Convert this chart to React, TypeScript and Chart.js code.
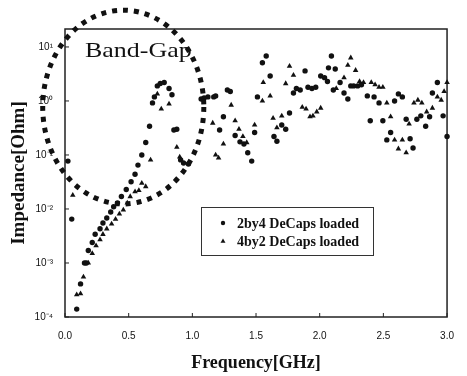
import React, { useEffect, useRef } from 'react';
import { Chart, registerables } from 'chart.js';

Chart.register(...registerables);

const seriesLabels = ['2by4 DeCaps loaded', '4by2 DeCaps loaded'];

const freq2by4 = [
  0.023, 0.053, 0.092, 0.122, 0.153, 0.168, 0.183, 0.214, 0.237, 0.275, 0.298, 0.328, 0.359, 0.382, 0.412,
  0.443, 0.481, 0.519, 0.55, 0.573, 0.603, 0.634, 0.664, 0.687, 0.702, 0.725, 0.748, 0.779, 0.817, 0.84,
  0.855, 0.878, 0.908, 0.931, 0.969, 1.069, 1.092, 1.122, 1.168, 1.183, 1.214, 1.244, 1.275, 1.298, 1.336,
  1.374, 1.405, 1.435, 1.466, 1.489, 1.511, 1.55, 1.58, 1.611, 1.641, 1.664, 1.702, 1.733, 1.763, 1.794,
  1.817, 1.847, 1.885, 1.908, 1.939, 1.969, 2.008, 2.038, 2.061, 2.069, 2.092, 2.107, 2.122, 2.16, 2.191,
  2.221, 2.244, 2.267, 2.298, 2.328, 2.374, 2.397, 2.427, 2.466, 2.496, 2.527, 2.557, 2.588, 2.618, 2.649,
  2.679, 2.71, 2.733, 2.763, 2.794, 2.832, 2.863, 2.885, 2.924, 2.969, 3.0,
];
const imp2by4 = [
  0.077, 0.0065, 0.00014, 0.00041, 0.001, 0.001, 0.0017, 0.0024, 0.0034, 0.0043, 0.0055, 0.0068, 0.0088, 0.011, 0.013,
  0.017, 0.023, 0.032, 0.044, 0.065, 0.1, 0.17, 0.34, 0.92, 1.19, 1.9, 2.1, 2.2, 1.7, 1.3,
  0.29, 0.3, 0.081, 0.071, 0.068, 1.09, 1.14, 1.19, 1.19, 1.24, 0.29, 0.51, 1.6, 1.5, 0.23,
  0.175, 0.16, 0.11, 0.077, 0.26, 1.19, 5.1, 6.8, 2.9, 0.22, 0.18, 0.36, 0.3, 0.6, 1.4,
  1.7, 1.6, 3.6, 1.8, 1.7, 1.8, 2.9, 2.7, 2.3, 4.1, 6.8, 1.6, 3.9, 2.2, 1.4,
  1.09, 1.9, 1.9, 1.9, 2.0, 1.24, 0.43, 1.19, 0.92, 0.43, 0.19, 0.26, 1.0, 1.35, 1.19,
  0.46, 0.2, 0.135, 0.46, 0.53, 0.34, 0.51, 1.4, 2.2, 0.53, 0.22,
];

const freq4by2 = [
  0.061, 0.092, 0.122, 0.145, 0.183, 0.214, 0.244, 0.275, 0.298, 0.328, 0.366, 0.397, 0.427, 0.458, 0.489,
  0.512, 0.55, 0.58, 0.603, 0.634, 0.672, 0.725, 0.756, 0.817, 0.878, 0.901, 1.16, 1.183, 1.206, 1.244,
  1.305, 1.336, 1.366, 1.397, 1.427, 1.489, 1.55, 1.557, 1.611, 1.634, 1.664, 1.702, 1.733, 1.763, 1.794,
  1.863, 1.893, 1.924, 1.947, 1.977, 2.008, 2.13, 2.191, 2.221, 2.244, 2.282, 2.313, 2.344, 2.405, 2.435,
  2.466, 2.496, 2.527, 2.557, 2.588, 2.618, 2.649, 2.679, 2.702, 2.74, 2.771, 2.802, 2.84, 2.885, 2.924,
  2.954, 2.977, 3.0,
];
const imp4by2 = [
  0.018, 0.00026, 0.00027, 0.00055, 0.001, 0.0015, 0.0021, 0.0027, 0.0034, 0.0043, 0.0053, 0.0065, 0.0081, 0.0096, 0.013,
  0.017, 0.021, 0.022, 0.03, 0.026, 0.081, 1.35, 0.71, 0.88, 0.14, 0.092, 0.39, 0.1, 0.088, 0.16,
  0.84, 0.43, 0.3, 0.22, 0.17, 0.36, 1.0, 2.2, 1.24, 0.48, 0.32, 0.53, 2.1, 4.4, 3.0,
  0.77, 0.71, 0.51, 0.53, 0.63, 0.74, 1.7, 2.7, 4.6, 6.3, 3.7, 2.3, 2.2, 2.2, 2.0,
  1.8, 1.8, 0.92, 0.51, 0.19, 0.13, 0.19, 0.11, 0.375, 0.92, 1.04, 0.92, 0.63, 0.74, 1.19,
  1.04, 1.5, 2.2,
];

const xTickValues = [0, 0.5, 1.0, 1.5, 2.0, 2.5, 3.0];
const yTickValues = [1e-4, 1e-3, 1e-2, 1e-1, 1, 10];
const yTickLabels = ['10⁻⁴', '10⁻³', '10⁻²', '10⁻¹', '10⁰', '10¹'];
const xAxisTitle = 'Frequency[GHz]';
const yAxisTitle = 'Impedance[Ohm]';
const annotationText = 'Band-Gap';
// dotted ellipse annotation extent, in data units (frequency, impedance)
const bandGapFreq = [-0.175, 1.09];
const bandGapImp = [0.0124, 48];

const INK = '#111';

function drawMarker(ctx: CanvasRenderingContext2D, style: string, x: number, y: number, r: number) {
  ctx.beginPath();
  if (style === 'triangle') {
    ctx.moveTo(x, y - r);
    ctx.lineTo(x + r * 0.95, y + r * 0.65);
    ctx.lineTo(x - r * 0.95, y + r * 0.65);
    ctx.closePath();
  } else {
    ctx.arc(x, y, r, 0, Math.PI * 2);
  }
  ctx.fill();
}

const decorPlugin = {
  id: 'decor',
  beforeDatasetsDraw(chart: any) {
    const { ctx, chartArea, scales } = chart;
    const { left, top, right, bottom } = chartArea;
    ctx.save();
    ctx.strokeStyle = '#222';
    ctx.lineWidth = 1.5;
    ctx.strokeRect(left, top, right - left, bottom - top);
    ctx.lineWidth = 1;
    xTickValues.forEach((v) => {
      const px = scales.x.getPixelForValue(v);
      ctx.beginPath();
      ctx.moveTo(px, bottom);
      ctx.lineTo(px, bottom - 4);
      ctx.stroke();
    });
    yTickValues.forEach((v) => {
      const py = scales.y.getPixelForValue(v);
      ctx.beginPath();
      ctx.moveTo(left, py);
      ctx.lineTo(left + 4, py);
      ctx.stroke();
    });
    ctx.restore();
  },
  afterDatasetsDraw(chart: any) {
    const { ctx, chartArea, scales } = chart;
    const { left, top } = chartArea;
    ctx.save();
    // dotted ellipse
    const x0 = scales.x.getPixelForValue(bandGapFreq[0]);
    const x1 = scales.x.getPixelForValue(bandGapFreq[1]);
    const y0 = scales.y.getPixelForValue(bandGapImp[1]);
    const y1 = scales.y.getPixelForValue(bandGapImp[0]);
    ctx.strokeStyle = INK;
    ctx.lineWidth = 5;
    ctx.setLineDash([5, 6]);
    ctx.beginPath();
    ctx.ellipse((x0 + x1) / 2, (y0 + y1) / 2, (x1 - x0) / 2, (y1 - y0) / 2, 0, 0, Math.PI * 2);
    ctx.stroke();
    ctx.setLineDash([]);

    // annotation text
    ctx.fillStyle = INK;
    ctx.font = '22px "Liberation Serif"';
    ctx.textBaseline = 'alphabetic';
    ctx.textAlign = 'left';
    ctx.translate(left + 20, top + 28);
    ctx.scale(1.18, 1);
    ctx.fillText(annotationText, 0, 0);
    ctx.restore();

    // legend box
    ctx.save();
    const lx = 201, ly = 207, lw = 172, lh = 48;
    ctx.strokeStyle = '#333';
    ctx.lineWidth = 1;
    ctx.strokeRect(lx + 0.5, ly + 0.5, lw, lh);
    ctx.fillStyle = INK;
    ctx.font = 'bold 14px "Liberation Serif"';
    ctx.textBaseline = 'middle';
    chart.data.datasets.forEach((ds: any, i: number) => {
      const yy = ly + 16 + i * 18;
      drawMarker(ctx, ds.pointStyle, lx + 22, yy, ds.pointStyle === 'triangle' ? 2.6 : 2.2);
      ctx.fillText(ds.label, lx + 36, yy + 1);
    });
    ctx.restore();
  },
};

export default function App() {
  const canvasRef = useRef<HTMLCanvasElement | null>(null);

  useEffect(() => {
    document.body.style.margin = '0';
    const canvas = canvasRef.current;
    if (!canvas) return;
    const chart = new Chart(canvas, {
      type: 'scatter',
      data: {
        datasets: [
          {
            label: seriesLabels[0],
            data: freq2by4.map((f, i) => ({ x: f, y: imp2by4[i] })),
            pointStyle: 'circle',
            pointRadius: 2.7,
            backgroundColor: INK,
            borderColor: INK,
            borderWidth: 0,
            clip: false,
          } as any,
          {
            label: seriesLabels[1],
            data: freq4by2.map((f, i) => ({ x: f, y: imp4by2[i] })),
            pointStyle: 'triangle',
            pointRadius: 3.2,
            backgroundColor: INK,
            borderColor: INK,
            borderWidth: 0,
            clip: false,
          } as any,
        ],
      },
      options: {
        animation: false,
        responsive: false,
        devicePixelRatio: 1,
        layout: { padding: { top: 29, right: 8, left: 0, bottom: 0 } },
        plugins: { legend: { display: false }, tooltip: { enabled: false } },
        scales: {
          x: {
            type: 'linear',
            min: 0,
            max: 3,
            grid: { display: false, drawTicks: false },
            border: { display: false },
            afterFit: (s: any) => { s.height = 59; },
            afterBuildTicks: (s: any) => { s.ticks = xTickValues.map((v) => ({ value: v })); },
            ticks: {
              padding: 13,
              color: INK,
              font: { family: '"Liberation Sans"', size: 10 },
              callback: (v: any) => Number(v).toFixed(1),
              maxRotation: 0,
            },
            title: {
              display: true,
              text: xAxisTitle,
              color: INK,
              font: { family: '"Liberation Serif"', size: 18, weight: 'bold' },
              padding: { top: 2, bottom: 2 },
            },
          },
          y: {
            type: 'logarithmic',
            min: 1e-4,
            max: 21.5,
            grid: { display: false, drawTicks: false },
            border: { display: false },
            afterFit: (s: any) => { s.width = 65; },
            afterBuildTicks: (s: any) => { s.ticks = yTickValues.map((v) => ({ value: v })); },
            ticks: {
              padding: 12,
              color: INK,
              font: { family: '"Liberation Sans"', size: 10 },
              callback: (v: any) => {
                const idx = yTickValues.findIndex((t) => Math.abs(Math.log10(t) - Math.log10(Number(v))) < 1e-6);
                return idx >= 0 ? yTickLabels[idx] : '';
              },
            },
            title: {
              display: true,
              text: yAxisTitle,
              color: INK,
              font: { family: '"Liberation Serif"', size: 19, weight: 'bold' },
              padding: { top: 8, bottom: 8 },
            },
          },
        },
      },
      plugins: [decorPlugin],
    });
    return () => chart.destroy();
  }, []);

  return (
    <div style={{ width: 467, height: 376, background: '#fff' }}>
      <canvas ref={canvasRef} width={467} height={376} style={{ display: 'block' }} />
    </div>
  );
}
